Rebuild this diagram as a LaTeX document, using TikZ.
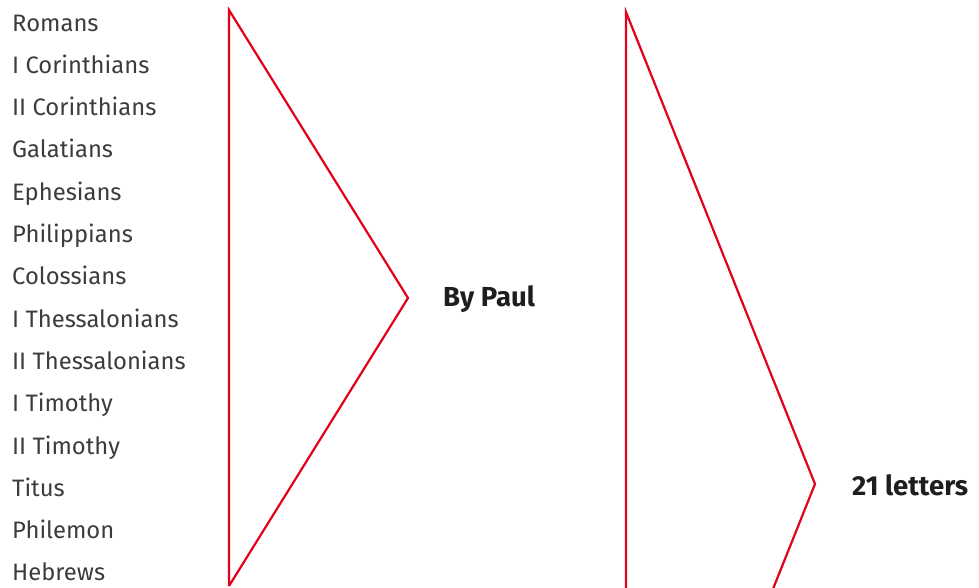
\documentclass[tikz,border=0pt]{standalone}
\usepackage{fontspec}
\setmainfont{Fira Sans}
\definecolor{brred}{HTML}{E2001A}
\definecolor{booktext}{HTML}{3C3C3C}
\definecolor{labeltext}{HTML}{1E1E1E}
\tikzset{
  book/.style={anchor=base west, inner sep=0pt, text=booktext, font=\fontsize{23.8}{26}\selectfont},
  grouplabel/.style={anchor=base west, inner sep=0pt, text=labeltext, font=\fontsize{27.5}{30}\selectfont\bfseries},
  bracket/.style={draw=brred, line width=2.2pt, line join=miter}
}
\begin{document}
\begin{tikzpicture}[x=1pt,y=-1pt]
\useasboundingbox (0,0) rectangle (979,587);
\begin{scope}
\clip (0,0) rectangle (979,587);
\foreach \t [count=\i from 0] in {Romans,I Corinthians,II Corinthians,Galatians,Ephesians,Philippians,Colossians,I Thessalonians,II Thessalonians,I Timothy,II Timothy,Titus,Philemon,Hebrews}{
  \node[book] (b\i) at (12,{31+42.3*\i}) {\t};
}
\coordinate (p1top) at (229,10);
\coordinate (p1tip) at (408,298);
\coordinate (p1bot) at (229,586);
\draw[bracket] (p1bot) -- (p1top) -- (p1tip) -- (p1bot);
\coordinate (p2top) at (626,12);
\coordinate (p2tip) at (815,484);
\coordinate (p2bot) at (626,956);
\draw[bracket] (p2bot) -- (p2top) -- (p2tip) -- (p2bot);
\node[grouplabel] (paul) at (443,306) {By Paul};
\node[grouplabel] (letters) at (852,495) {21 letters};
\end{scope}
\end{tikzpicture}
\end{document}
